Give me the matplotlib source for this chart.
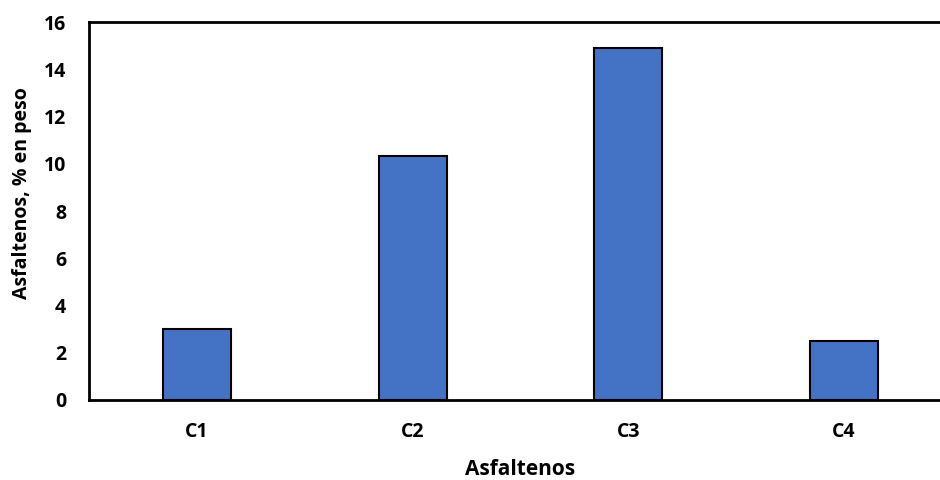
import matplotlib
matplotlib.use("Agg")
import matplotlib.pyplot as plt

categories = ["C1", "C2", "C3", "C4"]
values = [3.0, 10.35, 14.9, 2.5]
y_ticks = [0, 2, 4, 6, 8, 10, 12, 14, 16]

plt.rcParams['font.family'] = ['Open Sans', 'DejaVu Sans']

fig = plt.figure(figsize=(9.4, 4.8), dpi=100)
ax = fig.add_axes([0.0947, 0.1667, 0.918, 0.787])

x = list(range(len(categories)))
ax.bar(x, values, width=0.315, color="#4472C4", edgecolor="black", linewidth=1.5, zorder=3)

ax.set_xlim(-0.5, 3.5)
ax.set_ylim(0, 16)
ax.set_yticks(y_ticks)
ax.set_xticks(x)
ax.set_xticklabels(categories)

for s in ax.spines.values():
    s.set_linewidth(2)
    s.set_color("black")

ax.tick_params(axis="both", length=0, labelsize=14)
for lbl in ax.get_xticklabels() + ax.get_yticklabels():
    lbl.set_fontweight("bold")
ax.tick_params(axis="x", pad=16)
ax.tick_params(axis="y", pad=16.5)

ax.set_xlabel("Asfaltenos", fontsize=15, fontweight="bold")
ax.set_ylabel("Asfaltenos, % en peso", fontsize=14, fontweight="bold")
ax.xaxis.set_label_coords(0.5, -0.156)
ax.yaxis.set_label_coords(-0.066, 0.549)

fig.savefig("out.png", dpi=100)
